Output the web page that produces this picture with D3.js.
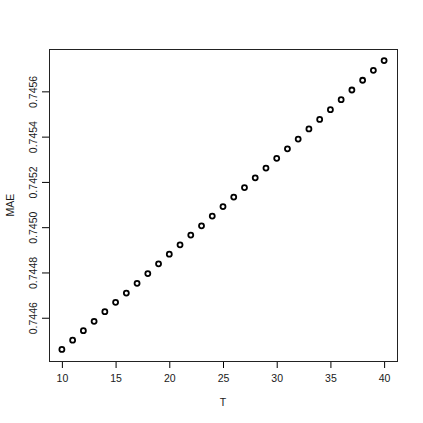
<!DOCTYPE html>
<html>
<head>
<meta charset="utf-8">
<script src="https://cdn.jsdelivr.net/npm/d3@7"></script>
<style>
  body { margin: 0; background: #fff; }
</style>
</head>
<body>
<div id="chart"></div>
<script>
// values
const tValues = [10, 11, 12, 13, 14, 15, 16, 17, 18, 19, 20, 21, 22, 23, 24, 25,
  26, 27, 28, 29, 30, 31, 32, 33, 34, 35, 36, 37, 38, 39, 40]
const maeValues = [0.744460, 0.744501, 0.744543, 0.744584, 0.744627, 0.744668, 0.744709,
  0.744752, 0.744795, 0.744838, 0.744881, 0.744922, 0.744965, 0.745006, 0.745049, 0.745091,
  0.745133, 0.745175, 0.745218, 0.745261, 0.745304, 0.745346, 0.745389, 0.745434, 0.745476,
  0.745519, 0.745563, 0.745606, 0.745649, 0.745693, 0.745736]
const xTicks = [10, 15, 20, 25, 30, 35, 40]
const yTicks = [0.7446, 0.7448, 0.7450, 0.7452, 0.7454, 0.7456]

const width = 423, height = 423
const margin = { top: 49, right: 26, bottom: 62, left: 49 }
const boundedWidth = width - margin.left - margin.right
const boundedHeight = height - margin.top - margin.bottom
const font = '"Liberation Sans", Arial, sans-serif'
const fontSize = 10.5

const data = tValues.map((t, i) => ({ t, mae: maeValues[i] }))

// R style 4% padding
const pad = ([a, b]) => [a - (b - a) * 0.04, b + (b - a) * 0.04]

const xScale = d3.scaleLinear()
  .domain(pad(d3.extent(tValues)))
  .range([0, boundedWidth])
const yScale = d3.scaleLinear()
  .domain(pad(d3.extent(maeValues)))
  .range([boundedHeight, 0])

const svg = d3.select('#chart')
  .append('svg')
  .attr('width', width)
  .attr('height', height)

const bounds = svg.append('g')
  .attr('transform', `translate(${margin.left}, ${margin.top})`)

const xAxis = bounds.append('g')
  .attr('transform', `translate(0, ${boundedHeight})`)
  .call(d3.axisBottom(xScale).tickValues(xTicks).tickSize(7).tickPadding(7))
const yAxis = bounds.append('g')
  .call(d3.axisLeft(yScale).tickValues(yTicks).tickFormat(d3.format('.4f')).tickSize(7))

for (const ax of [xAxis, yAxis]) {
  ax.attr('font-size', fontSize).attr('font-family', font)
  ax.select('.domain').remove()
  ax.selectAll('line').attr('stroke', '#000')
  ax.selectAll('text').attr('fill', '#1a1a1a')
}
yAxis.selectAll('.tick text')
  .attr('transform', 'rotate(-90)')
  .attr('x', 0)
  .attr('y', -12.5)
  .attr('dy', null)
  .attr('text-anchor', 'middle')

bounds.append('rect')
  .attr('x', 0.5)
  .attr('y', 0.5)
  .attr('width', boundedWidth)
  .attr('height', boundedHeight)
  .attr('fill', 'none')
  .attr('stroke', '#222')

bounds.selectAll('.pt')
  .data(data)
  .join('circle')
  .attr('class', 'pt')
  .attr('cx', d => xScale(d.t))
  .attr('cy', d => yScale(d.mae))
  .attr('r', 2.5)
  .attr('fill', 'none')
  .attr('stroke', '#000')
  .attr('stroke-width', 1.8)

svg.append('text')
  .attr('x', margin.left + boundedWidth / 2)
  .attr('y', 406)
  .attr('text-anchor', 'middle')
  .attr('font-size', fontSize)
  .attr('font-family', font)
  .attr('fill', '#1a1a1a')
  .text('T')

svg.append('text')
  .attr('transform', `translate(13.5, ${margin.top + boundedHeight / 2}) rotate(-90)`)
  .attr('text-anchor', 'middle')
  .attr('font-size', fontSize)
  .attr('font-family', font)
  .attr('fill', '#1a1a1a')
  .text('MAE')
</script>
</body>
</html>
